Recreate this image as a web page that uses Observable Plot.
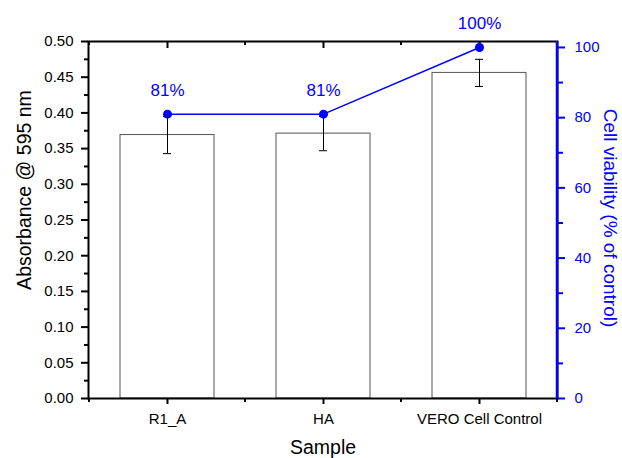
<!DOCTYPE html>
<html>
<head>
<meta charset="utf-8">
<script src="https://cdn.jsdelivr.net/npm/d3@7"></script>
<script src="https://cdn.jsdelivr.net/npm/@observablehq/plot@0.6"></script>
<style>
  body { margin: 0; background: white; }
  #chart { position: relative; width: 622px; height: 458px; }
  #chart svg { position: absolute; left: 0; top: 0; }
</style>
</head>
<body>
<div id="chart"></div>
<script>
const samples = ["R1_A", "HA", "VERO Cell Control"];
const absorbance = [0.369, 0.371, 0.456];
const absorbanceErr = [0.026, 0.024, 0.019];
const viability = [81, 81, 100];
const viabilityLabels = ["81%", "81%", "100%"];
const absTicks = [0, 0.05, 0.10, 0.15, 0.20, 0.25, 0.30, 0.35, 0.40, 0.45, 0.50];
const absMinorTicks = [0.025, 0.075, 0.125, 0.175, 0.225, 0.275, 0.325, 0.375, 0.425, 0.475];
const viaTicks = [0, 20, 40, 60, 80, 100];
const viaMinorTicks = [10, 30, 50, 70, 90];

const BLUE = "#0000ff";
const FONT = "'Liberation Sans', Arial, Helvetica, sans-serif";

const data = samples.map((s, i) => ({
  sample: s, abs: absorbance[i], err: absorbanceErr[i],
  via: viability[i], label: viabilityLabels[i]
}));

const W = 622, H = 458;
const margins = {marginLeft: 88, marginRight: 65, marginTop: 41, marginBottom: 60};
const xScale = {domain: samples, paddingInner: 0.4, paddingOuter: 0.2, axis: null};

// minor ticks at band boundaries (bottom: outward, top: inward)
function boundaryTicks(size) {
  return (index, scales, values, dims) => {
    const x = scales.x;
    const step = x.step(), bw = x.bandwidth();
    const centers = samples.map(s => x(s) + bw / 2);
    const bounds = centers.map(c => c - step / 2).concat([centers[centers.length - 1] + step / 2]);
    const yb = dims.height - dims.marginBottom, yt = dims.marginTop;
    const g = d3.create("svg:g").attr("stroke", "black").attr("stroke-width", 2);
    for (const b of bounds) {
      g.append("line").attr("x1", b).attr("x2", b).attr("y1", yb).attr("y2", yb + size);
      g.append("line").attr("x1", b).attr("x2", b).attr("y1", yt).attr("y2", yt + size);
    }
    return g.node();
  };
}

const p1 = Plot.plot({
  width: W, height: H, ...margins,
  style: {fontFamily: FONT, fontSize: "15px", background: "white", color: "black"},
  x: xScale,
  y: {domain: [0, 0.5], axis: null},
  marks: [
    Plot.barY(data, {x: "sample", y: "abs", fill: "white", stroke: "#555", strokeWidth: 1}),
    Plot.ruleX(data, {x: "sample", y1: d => d.abs - d.err, y2: d => d.abs + d.err, stroke: "black", strokeWidth: 1}),
    Plot.tickY(data, {x: "sample", y: d => d.abs - d.err, insetLeft: 43, insetRight: 43, stroke: "black", strokeWidth: 1}),
    Plot.tickY(data, {x: "sample", y: d => d.abs + d.err, insetLeft: 43, insetRight: 43, stroke: "black", strokeWidth: 1}),
    Plot.frame({stroke: "black", strokeWidth: 2}),
    Plot.axisY({ticks: absTicks, tickFormat: d3.format(".2f"), tickSize: 7, tickPadding: 8, strokeWidth: 2, label: null}),
    Plot.axisY({ticks: absMinorTicks, tickSize: 4, text: null, strokeWidth: 2, label: null}),
    Plot.axisX({ticks: samples, tickSize: 6, tickPadding: 9, strokeWidth: 2, label: null}),
    Plot.axisX({anchor: "top", ticks: samples, tickSize: -6, text: null, strokeWidth: 2, label: null}),
    boundaryTicks(4),
    Plot.text(["Sample"], {frameAnchor: "bottom", textAnchor: "middle", lineAnchor: "middle", dy: 49, fontSize: 19.5, fill: "black"}),
    Plot.text(["Absorbance @ 595 nm"], {frameAnchor: "left", textAnchor: "middle", lineAnchor: "middle", rotate: -90, dx: -64, dy: -30, fontSize: 19.5, fill: "black"})
  ]
});

// right axis line
function rightAxisLine(index, scales, values, dims) {
  const xr = dims.width - dims.marginRight;
  return d3.create("svg:line")
    .attr("x1", xr).attr("x2", xr)
    .attr("y1", dims.marginTop).attr("y2", dims.height - dims.marginBottom)
    .attr("stroke", BLUE).attr("stroke-width", 2.5).node();
}

const p2 = Plot.plot({
  width: W, height: H, ...margins,
  style: {fontFamily: FONT, fontSize: "15px", background: "transparent", color: BLUE},
  x: xScale,
  y: {domain: [0, 101.7], axis: null},
  marks: [
    rightAxisLine,
    Plot.lineY(data, {x: "sample", y: "via", stroke: BLUE, strokeWidth: 1.5}),
    Plot.dot(data, {x: "sample", y: "via", r: 4.5, fill: BLUE, stroke: "none"}),
    Plot.text(data, {x: "sample", y: "via", text: "label", dy: -24, fill: BLUE, fontSize: 17}),
    Plot.axisY({anchor: "right", ticks: viaTicks, tickSize: 7, tickPadding: 10, strokeWidth: 2, stroke: BLUE, fill: BLUE, label: null}),
    Plot.axisY({anchor: "right", ticks: viaMinorTicks, tickSize: 5, text: null, strokeWidth: 2, stroke: BLUE, label: null}),
    Plot.text(["Cell viability (% of control)"], {frameAnchor: "right", textAnchor: "middle", lineAnchor: "middle", rotate: 90, dx: 53, dy: -2, fontSize: 19, fill: BLUE})
  ]
});

const chart = document.getElementById("chart");
chart.appendChild(p1);
chart.appendChild(p2);
</script>
</body>
</html>
